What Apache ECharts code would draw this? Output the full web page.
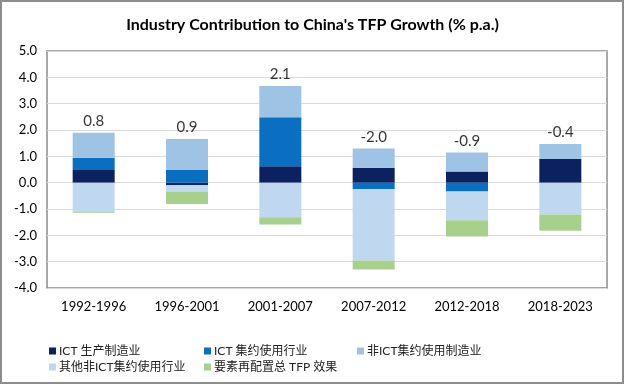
<!DOCTYPE html>
<html><head><meta charset="utf-8">
<script src="https://cdn.jsdelivr.net/npm/echarts@6/dist/echarts.min.js"></script>
<style>html,body{margin:0;padding:0;background:#fff}#c{width:625px;height:385px}</style>
</head><body><div id="c"></div>
<script>
const categories = ['1992-1996','1996-2001','2001-2007','2007-2012','2012-2018','2018-2023'];
const ictProd   = [0.48, -0.10, 0.62, 0.57, 0.42, 0.90];
const ictUse    = [0.47, 0.48, 1.86, -0.24, -0.34, 0.00];
const nonIctMfg = [0.95, 1.18, 1.19, 0.73, 0.73, 0.57];
const otherNon  = [-1.12, -0.24, -1.31, -2.72, -1.09, -1.21];
const realloc   = [-0.03, -0.47, -0.28, -0.34, -0.61, -0.62];
const totals    = ['0.8','0.9','2.1','-2.0','-0.9','-0.4'];
const yTicks    = [-4,-3,-2,-1,0,1,2,3,4,5];

const names = ['ICT 生产制造业','ICT 集约使用行业','非ICT集约使用制造业','其他非ICT集约使用行业','要素再配置总 TFP 效果'];
const colors = ['#0b2160','#0a6fc0','#9fc3e5','#c0d8ef','#a8d08d'];
const vals = [ictProd, ictUse, nonIctMfg, otherNon, realloc];

const posTop = categories.map((c,i)=>vals.reduce((s,a)=>s+(a[i]>0?a[i]:0),0));

const font = 'Lato, "Noto Sans CJK SC", sans-serif';
const chart = echarts.init(document.getElementById('c'), null, {renderer:'canvas'});
const series = names.map((n,k)=>({
  name:n, type:'bar', stack:'s', barWidth:42, data:vals[k],
  itemStyle:{color:colors[k]}, emphasis:{disabled:true}
}));
series.push({
  type:'scatter', data:posTop, symbolSize:0, silent:true,
  label:{show:true, position:'top', distance:4, color:'#000', fontSize:15, fontFamily:font,
    formatter:p=>totals[p.dataIndex]}
});
const legCommon = {orient:'vertical', itemWidth:7, itemHeight:7, itemGap:4, icon:'rect',
  textStyle:{fontSize:12, color:'#222', fontFamily:font, padding:[0,0,0,-2]}, selectedMode:false};
chart.setOption({
  animation:false,
  title:{text:"Industry Contribution to China's TFP Growth (% p.a.)", left:'center', top:12,
    textStyle:{fontSize:16, fontWeight:'bold', color:'#000', fontFamily:font}},
  grid:{left:47, right:18, top:51, bottom:97, show:true, borderColor:'#8c8c8c', borderWidth:1.5},
  legend:[
    Object.assign({left:44, top:340, data:[names[0],names[3]]}, legCommon),
    Object.assign({left:199, top:340, data:[names[1],names[4]]}, legCommon),
    Object.assign({left:352, top:340, data:[names[2]]}, legCommon)
  ],
  xAxis:{type:'category', data:categories, axisTick:{show:false}, axisLine:{show:false},
    axisLabel:{fontSize:13, color:'#000', margin:12, fontFamily:font}},
  yAxis:{type:'value', min:yTicks[0], max:yTicks[yTicks.length-1], interval:1,
    axisLine:{show:false}, axisTick:{show:false},
    splitLine:{lineStyle:{color:'#d9d9d9', width:1}},
    axisLabel:{fontSize:13, color:'#000', margin:10, fontFamily:font, formatter:v=>v.toFixed(1)}},
  graphic:[{type:'rect', shape:{x:1, y:1, width:622, height:382}, style:{fill:'none', stroke:'#8c8c8c', lineWidth:2}, silent:true}],
  series
});
</script></body></html>
